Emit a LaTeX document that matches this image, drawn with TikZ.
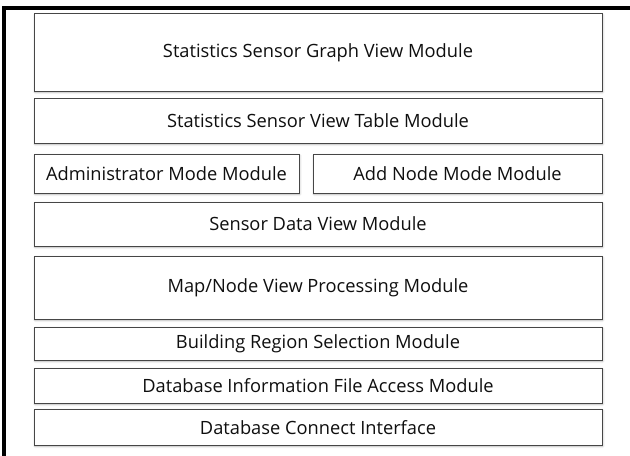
\documentclass[tikz,border=0pt]{standalone}
\usepackage{fontspec}
\setmainfont{Open Sans}
\usepackage{xcolor}
\usepackage{tikz}
\usetikzlibrary{positioning, shadows.blur}
\definecolor{ModBorder}{RGB}{70,70,70}
\definecolor{ModText}{RGB}{15,15,15}

\begin{document}
\begin{tikzpicture}[
    module/.style={draw=ModBorder, line width=0.7pt, fill=white, inner sep=0pt, outer sep=0pt,
                   minimum width=14.2cm, font=\fontsize{13}{15}\selectfont, text=ModText,
                   blur shadow={shadow xshift=0.6pt, shadow yshift=-0.9pt, shadow opacity=30, shadow blur radius=1.4pt}},
    frameline/.style={line width=2.2pt, black},
]
\useasboundingbox (0,0) rectangle (15.75,-11.4);
\coordinate (fc) at (0.1,-0.2);
\coordinate (fr) at (15.75,-0.2);
\coordinate (fb) at (0.1,-11.4);
\draw[frameline] (fr) -- (fc) -- (fb);

\node[module, minimum height=1.94cm, anchor=north west] (graph) at (0.85,-0.3375) {Statistics Sensor Graph View Module};
\node[module, minimum height=1.11cm, below=0.19cm of graph] (table) {Statistics Sensor View Table Module};
\node[module, minimum width=6.625cm, minimum height=0.975cm, below=0.275cm of table.south west, anchor=north west] (admin) {Administrator Mode Module};
\node[module, minimum width=7.225cm, minimum height=0.975cm, right=0.35cm of admin] (addnode) {Add Node Mode Module};
\node[module, minimum height=1.1cm, below=0.225cm of admin.south west, anchor=north west] (sensor) {Sensor Data View Module};
\node[module, minimum height=1.575cm, below=0.25cm of sensor] (mapview) {Map/Node View Processing Module};
\node[module, minimum height=0.825cm, below=0.2cm of mapview] (region) {Building Region Selection Module};
\node[module, minimum height=0.875cm, below=0.2cm of region] (dbfile) {Database Information File Access Module};
\node[module, minimum height=0.9cm, below=0.15cm of dbfile] (dbconn) {Database Connect Interface};
\end{tikzpicture}
\end{document}
